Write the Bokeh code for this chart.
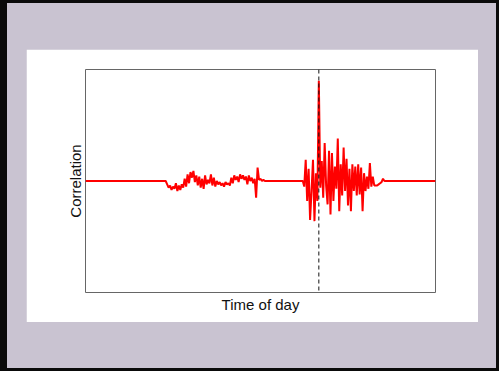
from bokeh.plotting import figure
from bokeh.models import Span, FixedTicker, Range1d, Column
from bokeh.embed import file_html
from bokeh.resources import INLINE

# Time of day in hours; correlation values
quiet_hours = [0.0, 5.5]
quiet_vals = [0.0, 0.0]

seg1_hours = [round(5.6 + 0.1 * i, 1) for i in range(70)]
seg1_vals = [
    -0.03, -0.06, -0.04, -0.08, -0.05,
    -0.07, -0.02, -0.09, -0.04, -0.08, -0.03, -0.06,
    0.02, -0.05, 0.06, -0.02, 0.08,
    0.03, 0.09, -0.01, 0.05, -0.04,
    0.04, -0.06, 0.02, -0.07, 0.05, -0.03, 0.01,
    -0.02, 0.06, -0.04, 0.03, -0.05, 0.00, -0.03,
    -0.01, -0.04, -0.02, -0.05, -0.01, -0.03, -0.02, -0.04,
    0.03, -0.02, 0.05, 0.01, 0.04, -0.01, 0.06, 0.02, 0.05,
    0.01, 0.04, -0.03, 0.05, 0.00, 0.03, -0.02,
    0.02, -0.15, 0.12, 0.01,
    0.02, 0.00, 0.01, 0.00, 0.00, 0.00,
]

mid_hours = [12.6, 14.8]
mid_vals = [0.0, 0.0]

seg2_hours = [round(14.9 + 0.1 * i, 1) for i in range(58)]
seg2_vals = [
    0.00, -0.05, 0.19, -0.18, 0.11, -0.35, -0.09, 0.19, -0.36, 0.07,
    -0.18, 0.90, -0.06, 0.18, -0.15, 0.34, -0.04, -0.21, 0.27, -0.30,
    0.25, -0.18, 0.13, -0.07, 0.38, -0.27, 0.15, -0.13, 0.30, -0.09,
    0.20, -0.22, 0.11, -0.27, 0.15, -0.09, 0.13, -0.13, 0.15, -0.12,
    0.12, -0.27, 0.07, -0.09, 0.04, -0.07, 0.16, -0.05, 0.04, -0.04,
    -0.04, -0.04, -0.03, -0.02, -0.01, 0.02, 0.00, 0.00,
]

end_hours = [20.7, 24.0]
end_vals = [0.0, 0.0]

event_hour = 16.0

hours = quiet_hours + seg1_hours + mid_hours + seg2_hours + end_hours
vals = quiet_vals + seg1_vals + mid_vals + seg2_vals + end_vals

p = figure(width=452, height=273, output_backend="svg", toolbar_location=None,
           x_range=Range1d(0, 24), y_range=Range1d(-1, 1),
           min_border_left=59, min_border_right=43, min_border_top=20, min_border_bottom=30)
p.background_fill_color = "white"
p.border_fill_color = "white"
p.outline_line_color = "#666666"
p.outline_line_width = 1
p.grid.visible = False

p.line(hours, vals, line_color="#FF0000", line_width=2)
p.add_layout(Span(location=event_hour, dimension="height", line_color="#111111",
                  line_width=1, line_dash="4 3"))

for ax in (p.xaxis[0], p.yaxis[0]):
    ax.ticker = FixedTicker(ticks=[])
    ax.axis_line_color = None
    ax.major_tick_line_color = None
    ax.minor_tick_line_color = None
    ax.major_tick_out = 0
    ax.major_tick_in = 0
    ax.major_label_standoff = 0
    ax.axis_label_text_font = "Liberation Sans"
    ax.axis_label_text_font_style = "normal"
    ax.axis_label_text_font_size = "15px"
    ax.axis_label_text_color = "#111111"
p.xaxis.axis_label_standoff = 3
p.yaxis.axis_label_standoff = 2
p.xaxis.axis_label = "Time of day"
p.yaxis.axis_label = "Correlation"

panel = Column(children=[p], styles={"background-color": "#C9C3D1",
                                     "padding": "46px 18px 46px 19px"})
layout = Column(children=[panel], styles={"background-color": "#0a0a0a",
                                          "padding": "3px 3px 3px 7px"})

open("out.html", "w").write(file_html(layout, INLINE))
